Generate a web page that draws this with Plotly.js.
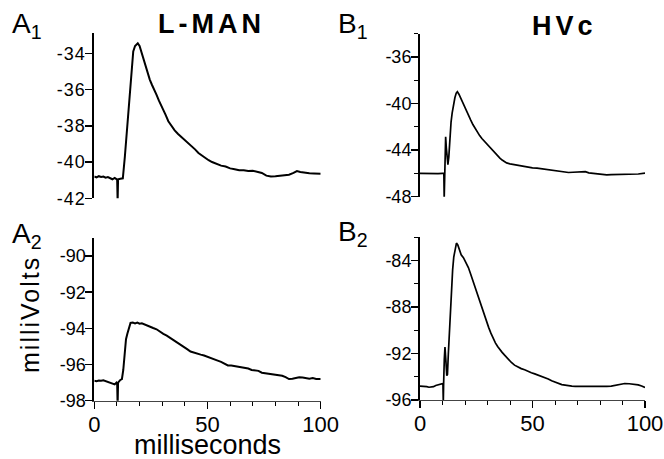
<!DOCTYPE html>
<html><head><meta charset="utf-8">
<script src="https://cdn.plot.ly/plotly-3.0.1.min.js"></script>
<style>
html,body{margin:0;padding:0;background:#fff}
.annotation[data-index="1"] text, .annotation[data-index="3"] text {letter-spacing:4px}
.annotation[data-index="6"] text {letter-spacing:2px}
.ytick text {letter-spacing:1px}
</style>
</head><body><div id="chart" style="width:664px;height:459px"></div>
<script>
// ---- data (time in ms, membrane potential in mV) ----
const a1T = [0,1,2,3,4,5,6,7,8,9,9.8,10.1,10.3,10.5,11.5,12.6,13.5,14.5,15.5,16.5,17.2,18,19.2,20,20.6,21.5,22.5,23.5,24.5,25.5,26.5,27.5,28.5,29.5,30.5,31.5,32.7,34,35.5,37,38.5,40,41.5,43,44.5,46,47.5,49,50.5,52,54,56,58,60,62,64,66,68,70,72,74,76,78,80,82,84,86,88,89.5,91,93,95,97,100];
const a1V = [-40.80,-40.85,-40.78,-40.82,-40.80,-40.86,-40.83,-40.90,-40.95,-40.88,-40.95,-40.97,-42.2,-40.95,-40.92,-40.90,-39.7,-38.0,-36.3,-34.6,-33.9,-33.6,-33.45,-33.6,-33.85,-34.3,-34.75,-35.1,-35.45,-35.75,-36.0,-36.3,-36.6,-36.85,-37.1,-37.4,-37.75,-38.0,-38.25,-38.45,-38.62,-38.8,-38.95,-39.1,-39.3,-39.5,-39.65,-39.78,-39.9,-40.0,-40.1,-40.2,-40.25,-40.35,-40.4,-40.45,-40.45,-40.5,-40.48,-40.55,-40.6,-40.75,-40.8,-40.78,-40.75,-40.72,-40.7,-40.6,-40.5,-40.55,-40.6,-40.62,-40.63,-40.65];

const a2T = [0,1,2,3,4,5,6,7,8,9,9.8,10.1,10.3,10.5,11.5,12.2,12.8,13.5,14,14.6,15.3,16,17,18,19,20,21,22,23,24,25,26,27.5,29,30.5,32,33.5,35,36.5,38,39.5,41,42.5,44,45.5,47,48.5,50,51.5,53,54.5,56,57.5,59,60.5,62,63.5,65,66.5,68,69.5,71,72.5,74,75.5,77,78.5,80,81.5,83,84.5,86,87.5,89,90.5,92,93.5,95,96.5,98,100];
const a2V = [-96.90,-96.92,-96.88,-96.90,-96.87,-96.92,-96.95,-97.0,-97.05,-97.1,-97.0,-97.05,-98.3,-97.0,-96.85,-96.8,-96.3,-95.2,-94.6,-94.3,-93.95,-93.7,-93.68,-93.72,-93.68,-93.74,-93.72,-93.78,-93.8,-93.88,-93.92,-93.98,-94.05,-94.2,-94.3,-94.4,-94.52,-94.62,-94.75,-94.88,-95.0,-95.15,-95.28,-95.35,-95.4,-95.45,-95.5,-95.58,-95.65,-95.7,-95.78,-95.85,-95.95,-96.05,-96.05,-96.08,-96.1,-96.12,-96.18,-96.22,-96.3,-96.32,-96.35,-96.45,-96.48,-96.5,-96.55,-96.55,-96.6,-96.62,-96.7,-96.8,-96.78,-96.72,-96.7,-96.72,-96.75,-96.78,-96.75,-96.8,-96.8];

const b1T = [0,2,4,6,8,10,10.6,10.75,10.95,11.2,11.4,11.7,12.0,12.4,12.8,13.3,13.8,14.3,14.9,15.5,16.1,16.6,17.3,18.3,19.3,20.5,21.5,22.5,23.5,24.5,25.5,26.5,27.5,28.5,29.5,30.5,31.5,32.5,33.5,34.5,35.5,36.5,37.5,38.5,40,42,44,46,48,50,52,54,56,58,60,62,64,66,68,70,72,73.5,75,77,79,81,83,85,87,89,91,93,95,97,100];
const b1V = [-46.0,-46.02,-46.0,-46.0,-46.02,-46.0,-46.0,-48.2,-46.0,-43.6,-42.85,-43.8,-44.9,-45.25,-44.6,-42.8,-41.6,-40.8,-40.0,-39.5,-39.1,-38.98,-39.2,-39.65,-40.05,-40.5,-40.95,-41.4,-41.8,-42.15,-42.48,-42.75,-43.0,-43.22,-43.45,-43.67,-43.88,-44.1,-44.3,-44.5,-44.68,-44.85,-45.0,-45.1,-45.18,-45.25,-45.3,-45.4,-45.5,-45.52,-45.55,-45.6,-45.65,-45.7,-45.8,-45.85,-45.9,-45.92,-45.9,-45.88,-45.82,-45.85,-45.95,-46.0,-46.05,-46.08,-46.12,-46.1,-46.1,-46.08,-46.08,-46.1,-46.1,-46.05,-45.98];

const b2T = [0,1,2,3,4,5,6,7,8,9,9.9,10.2,10.35,10.5,10.8,11.1,11.5,11.9,12.2,12.6,13.0,13.5,14.0,14.5,15.0,15.6,16.2,16.8,17.5,18.3,19.3,20.3,21.5,22.5,23.5,24.5,25.5,26.5,27.5,28.5,29.5,30.5,31.5,32.5,33.5,34.5,35.5,36.5,37.5,38.5,39.5,40.5,42,43.5,45,46.5,48,49.5,51,52.5,54,55.5,57,58.5,60,61.5,63,64.5,66,67.5,69,71,73,75,77,79,81,83,85,87,89,91,93,95,97,98.5,100];
const b2V = [-94.8,-94.8,-94.82,-94.85,-94.9,-94.9,-94.85,-94.75,-94.68,-94.62,-94.6,-94.65,-96.2,-94.6,-92.5,-91.45,-92.6,-93.9,-93.8,-92.0,-90.3,-88.5,-86.5,-84.8,-83.7,-82.9,-82.5,-82.65,-83.1,-83.5,-83.75,-84.1,-84.6,-85.15,-85.75,-86.35,-86.95,-87.55,-88.1,-88.65,-89.2,-89.75,-90.25,-90.7,-91.08,-91.4,-91.68,-91.9,-92.12,-92.35,-92.55,-92.75,-93.0,-93.18,-93.3,-93.4,-93.55,-93.65,-93.75,-93.85,-94.0,-94.1,-94.2,-94.35,-94.48,-94.62,-94.68,-94.72,-94.78,-94.8,-94.82,-94.82,-94.85,-94.85,-94.88,-94.88,-94.85,-94.82,-94.8,-94.72,-94.65,-94.58,-94.6,-94.62,-94.7,-94.8,-94.92];

// ---- tick labels ----
const a1Ticks = [-42,-40,-38,-36,-34];
const a2Ticks = [-98,-96,-94,-92,-90];
const b1Ticks = [-48,-44,-40,-36];
const b1Minor = [-46,-42,-38,-34];
const b2Ticks = [-96,-92,-88,-84];
const b2Minor = [-94,-90,-86,-82];
const xTicks = [0,50,100];
const xMinor = [10,20,30,40,60,70,80,90];
const lbl = a => a.map(v => String(v));

const W = 664, H = 459;
const px = (a,b) => [a/W, b/W];
const py = (bottom, top) => [1-bottom/H, 1-top/H];

const FONT = 'Arial, "Liberation Sans", Helvetica, sans-serif';
const yTickFont = {family: FONT, size: 18, color: '#000'};
const xTickFont = {family: FONT, size: 22, color: '#000'};

const trace = (x, y, xa, ya, w) => ({x, y, xaxis: xa, yaxis: ya, type: 'scatter', mode: 'lines',
  line: {color: '#000', width: w}, hoverinfo: 'skip'});

const data = [
  trace(a1T, a1V, 'x', 'y', 2),
  trace(b1T, b1V, 'x2', 'y2', 1.7),
  trace(a2T, a2V, 'x3', 'y3', 2),
  trace(b2T, b2V, 'x4', 'y4', 1.7)
];

const yBase = {showgrid: false, zeroline: false, showline: true, linecolor: '#000', linewidth: 2,
  ticks: 'outside', ticklen: 7, tickwidth: 1.5, tickcolor: '#000', tickfont: yTickFont, tickmode: 'array',
  ticklabelstandoff: -4};
const xHidden = {visible: false, range: [0, 100]};
const xShown = {range: [0, 100], showgrid: false, zeroline: false, showline: true, linecolor: '#444', linewidth: 1,
  ticks: 'outside', ticklen: 7, tickwidth: 1.5, tickcolor: '#000', tickfont: xTickFont, ticklabelstandoff: -3,
  tickmode: 'array', tickvals: xTicks, ticktext: lbl(xTicks),
  minor: {tickmode: 'array', tickvals: xMinor, ticks: 'outside', ticklen: 4, tickwidth: 1, tickcolor: '#000', showgrid: false}};

const layout = {
  width: W, height: H, margin: {l: 0, r: 0, t: 0, b: 0},
  paper_bgcolor: '#fff', plot_bgcolor: '#fff', showlegend: false,
  xaxis: Object.assign({}, xHidden, {domain: px(94.3, 320.7), anchor: 'y'}),
  yaxis: Object.assign({}, yBase, {domain: py(198.3, 33.3), anchor: 'x', range: [-42, -32.9],
    tickvals: a1Ticks, ticktext: lbl(a1Ticks)}),
  xaxis2: Object.assign({}, xHidden, {domain: px(420, 645), anchor: 'y2'}),
  yaxis2: Object.assign({}, yBase, {domain: py(196.7, 33.7), anchor: 'x2', range: [-48, -34],
    tickvals: b1Ticks, ticktext: lbl(b1Ticks),
    minor: {tickmode: 'array', tickvals: b1Minor, ticks: 'outside', ticklen: 4, tickwidth: 1.2, tickcolor: '#000', showgrid: false}}),
  xaxis3: Object.assign({}, xShown, {domain: px(94.3, 320.7), anchor: 'y3'}),
  yaxis3: Object.assign({}, yBase, {domain: py(400.7, 238), anchor: 'x3', range: [-98, -89],
    tickvals: a2Ticks, ticktext: lbl(a2Ticks)}),
  xaxis4: Object.assign({}, xShown, {domain: px(420, 645), anchor: 'y4'}),
  yaxis4: Object.assign({}, yBase, {domain: py(400, 237.3), anchor: 'x4', range: [-96, -82],
    tickvals: b2Ticks, ticktext: lbl(b2Ticks),
    minor: {tickmode: 'array', tickvals: b2Minor, ticks: 'outside', ticklen: 4, tickwidth: 1.2, tickcolor: '#000', showgrid: false}}),
  annotations: [
    {text: 'A<sub>1</sub>', xref: 'paper', yref: 'paper', x: 10/W, y: 1-26/H, xanchor: 'left', yanchor: 'middle', showarrow: false, font: {family: FONT, size: 28, color: '#000'}},
    {text: 'L-MAN', xref: 'paper', yref: 'paper', x: 211/W, y: 1-24/H, xanchor: 'center', yanchor: 'middle', showarrow: false, font: {family: FONT, size: 27, color: '#000', weight: 'bold'}},
    {text: 'B<sub>1</sub>', xref: 'paper', yref: 'paper', x: 336/W, y: 1-26/H, xanchor: 'left', yanchor: 'middle', showarrow: false, font: {family: FONT, size: 28, color: '#000'}},
    {text: 'HVc', xref: 'paper', yref: 'paper', x: 564/W, y: 1-26/H, xanchor: 'center', yanchor: 'middle', showarrow: false, font: {family: FONT, size: 27, color: '#000', weight: 'bold'}},
    {text: 'A<sub>2</sub>', xref: 'paper', yref: 'paper', x: 10/W, y: 1-235/H, xanchor: 'left', yanchor: 'middle', showarrow: false, font: {family: FONT, size: 28, color: '#000'}},
    {text: 'B<sub>2</sub>', xref: 'paper', yref: 'paper', x: 336/W, y: 1-234/H, xanchor: 'left', yanchor: 'middle', showarrow: false, font: {family: FONT, size: 28, color: '#000'}},
    {text: 'milliVolts', xref: 'paper', yref: 'paper', x: 30/W, y: 1-315/H, xanchor: 'center', yanchor: 'middle', textangle: -90, showarrow: false, font: {family: FONT, size: 25, color: '#000'}},
    {text: 'milliseconds', xref: 'paper', yref: 'paper', x: 207/W, y: 1-445/H, xanchor: 'center', yanchor: 'middle', showarrow: false, font: {family: FONT, size: 27, color: '#000'}}
  ]
};

Plotly.newPlot('chart', data, layout, {displayModeBar: false, staticPlot: true});
</script></body></html>
